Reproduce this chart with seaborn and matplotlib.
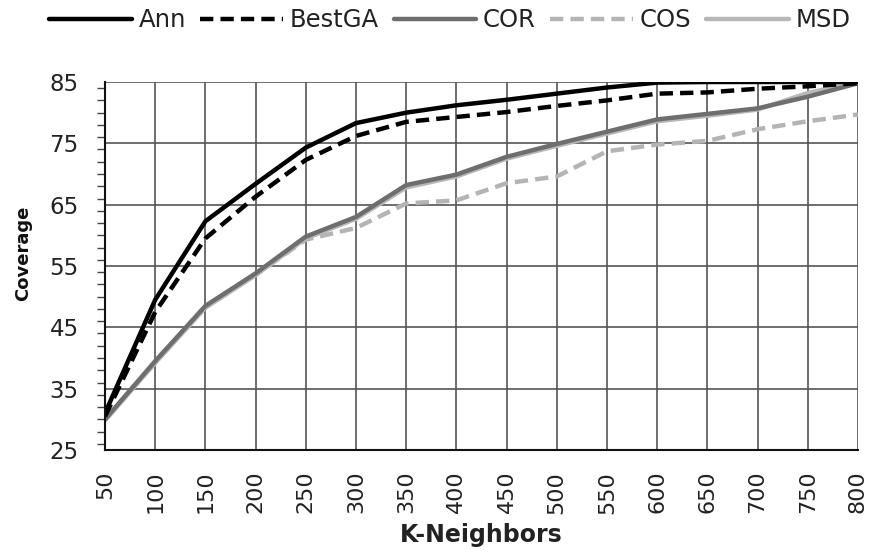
import numpy as np
import pandas as pd
import matplotlib
matplotlib.use('Agg')
import matplotlib.pyplot as plt
from matplotlib.ticker import MultipleLocator
import seaborn as sns

# 数据
k_neighbors = [50, 100, 150, 200, 250, 300, 350, 400, 450, 500, 550, 600, 650, 700, 750, 800]
ann = [31.0, 49.5, 62.3, 68.4, 74.3, 78.3, 80.0, 81.2, 82.1, 83.1, 84.1, 84.9, 85.0, 85.0, 85.0, 85.0]
best_ga = [30.5, 47.5, 59.5, 66.3, 72.3, 76.2, 78.5, 79.3, 80.1, 81.1, 82.0, 83.1, 83.3, 83.9, 84.3, 84.8]
cor = [30.0, 39.5, 48.5, 53.8, 59.8, 63.0, 68.2, 69.9, 72.8, 74.9, 76.9, 78.9, 79.8, 80.7, 82.6, 84.8]
cos = [30.0, 39.3, 48.3, 53.6, 59.3, 61.2, 65.2, 65.7, 68.5, 69.6, 73.7, 74.8, 75.4, 77.3, 78.6, 79.7]
msd = [29.8, 39.2, 48.2, 53.5, 59.5, 62.7, 67.8, 69.6, 72.5, 74.6, 76.6, 78.6, 79.5, 80.5, 83.2, 85.0]

methods = ['Ann', 'BestGA', 'COR', 'COS', 'MSD']
series = {'Ann': ann, 'BestGA': best_ga, 'COR': cor, 'COS': cos, 'MSD': msd}

df = pd.DataFrame({
    'K-Neighbors': k_neighbors * len(methods),
    'Coverage': sum([series[m] for m in methods], []),
    'Method': sum([[m] * len(k_neighbors) for m in methods], []),
})

palette = {'Ann': '#000000', 'BestGA': '#000000', 'COR': '#6e6e6e', 'COS': '#b4b4b4', 'MSD': '#b8b8b8'}
dashes = {'Ann': '', 'BestGA': (3, 1.6), 'COR': '', 'COS': (3, 1.6), 'MSD': ''}

sns.set_style('white')
plt.rcParams['font.family'] = ['DejaVu Sans']

fig = plt.figure(figsize=(8.7, 5.54), dpi=100)
ax = fig.add_axes([0.1207, 0.1877, 0.8655, 0.6643])

# 倒序绘制, 让 Ann 在最上层
sns.lineplot(data=df, x='K-Neighbors', y='Coverage', hue='Method', style='Method',
             hue_order=methods[::-1], style_order=methods[::-1],
             palette=palette, dashes=dashes, linewidth=3.2, ax=ax, legend=True)

handles, labels = ax.get_legend_handles_labels()
hmap = dict(zip(labels, handles))
ax.get_legend().remove()
for h in hmap.values():
    h.set_linewidth(3.2)
fig.legend([hmap[m] for m in methods], methods, loc='center', bbox_to_anchor=(0.517, 0.963),
           ncol=5, frameon=False, fontsize=17.5, handlelength=3.4, handletextpad=0.28,
           columnspacing=0.6, labelcolor='#222222')

ax.set_xlim(50, 800)
ax.set_ylim(25, 85)
ax.set_xticks(k_neighbors)
ax.set_yticks(range(25, 86, 10))
ax.yaxis.set_minor_locator(MultipleLocator(2))
ax.tick_params(axis='x', which='major', rotation=90, labelsize=16, length=7, width=1.2,
               direction='out', colors='#222222', pad=8)
ax.tick_params(axis='y', which='major', labelsize=16.5, length=8, width=1.2,
               direction='out', colors='#222222', pad=11)
ax.tick_params(axis='y', which='minor', length=6, width=1.0, direction='out', left=True, color='#444444')
ax.grid(True, which='major', color='#555555', linewidth=1.2)
ax.set_axisbelow(True)

for s in ['top', 'right']:
    ax.spines[s].set_visible(False)
for s in ['left', 'bottom']:
    ax.spines[s].set_color('#111111')
    ax.spines[s].set_linewidth(1.5)

ax.set_xlabel('K-Neighbors', fontsize=17, fontweight='bold', color='#222222', labelpad=7)
ax.set_ylabel('Coverage', fontsize=13, fontweight='bold', color='#111111')
ax.yaxis.set_label_coords(-0.097, 0.535)

fig.savefig('out.png', dpi=100)
